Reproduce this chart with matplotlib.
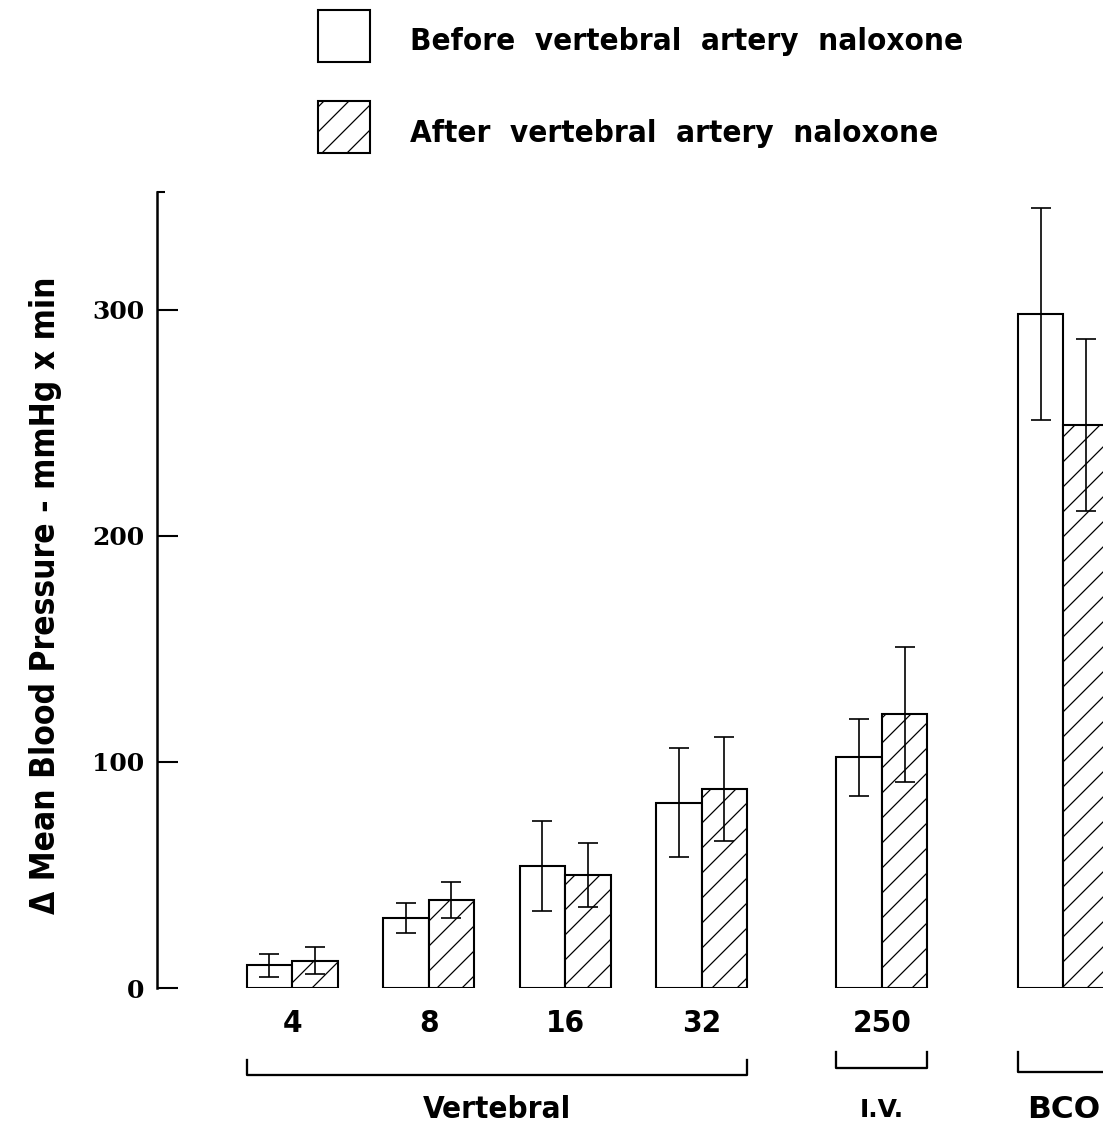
import numpy as np
import matplotlib
matplotlib.use("Agg")
import matplotlib.pyplot as plt
from matplotlib.patches import Rectangle

# data
doses = ["4", "8", "16", "32", "250", ""]
groups = ["Vertebral", "I.V.", "BCO"]
group_members = [[0, 1, 2, 3], [4], [5]]
before = [10, 31, 54, 82, 102, 298]
before_err = [5, 6.5, 20, 24, 17, 47]
after = [12, 39, 50, 88, 121, 249]
after_err = [6, 8, 14, 23, 30, 38]
series_labels = ["Before vertebral artery naloxone", "After vertebral artery naloxone"]

# layout
positions = np.array([0, 1, 2, 3, 4.32, 5.65])
width = 0.333
DPI = 150
W, H = 1103, 1126

plt.rcParams['font.family'] = ['DejaVu Sans']
plt.rcParams['font.stretch'] = 'condensed'
plt.rcParams['font.weight'] = 'bold'
plt.rcParams['axes.labelweight'] = 'bold'
plt.rcParams['hatch.linewidth'] = 0.6

fig = plt.figure(figsize=(W / DPI, H / DPI), dpi=DPI)
ax = fig.add_axes([157 / W, (H - 988) / H, (W - 157) / W, (988 - 192) / H])

err_kw = dict(elinewidth=0.8, capthick=0.8, ecolor='black')
ax.bar(positions - width / 2, before, width, yerr=before_err, capsize=5,
       color='white', edgecolor='black', linewidth=1.0, error_kw=err_kw)
ax.bar(positions + width / 2, after, width, yerr=after_err, capsize=5,
       color='white', edgecolor='black', linewidth=1.0, hatch='//', error_kw=err_kw)

ax.set_xlim(-0.99, 5.94)
ax.set_ylim(0, 352)
for s in ['top', 'right', 'bottom']:
    ax.spines[s].set_visible(False)
ax.spines['left'].set_linewidth(1.2)

ax.set_yticks([0, 100, 200, 300])
ax.set_yticks([352], minor=True)
ax.tick_params(axis='y', which='major', direction='in', length=10, width=1.0,
               labelsize=12, pad=6)
ax.tick_params(axis='y', which='minor', direction='in', length=4, width=1.0)
for t in ax.get_yticklabels():
    t.set_fontfamily(['DejaVu Serif'])
    t.set_fontstretch('normal')
    t.set_fontweight('bold')

ax.set_xticks(positions)
ax.set_xticklabels(doses)
ax.tick_params(axis='x', length=0, labelsize=15, pad=10)

ax.set_ylabel("\u0394 Mean Blood Pressure - mmHg x min", fontsize=16)
ax.yaxis.set_label_coords(-0.100, 0.494)

# group brackets under the axis
trans = ax.get_xaxis_transform()
bracket_y = [(-0.109, -0.090), (-0.1005, -0.080), (-0.1055, -0.080)]
label_style = [dict(fontsize=15), dict(fontsize=12, fontstretch='normal'),
               dict(fontsize=15, fontstretch='normal')]
for name, members, (yb, yt), st in zip(groups, group_members, bracket_y, label_style):
    x0 = positions[members[0]] - width
    x1 = positions[members[-1]] + width
    ax.plot([x0, x0, x1, x1], [yt, yb, yb, yt], color='black', lw=1.1,
            transform=trans, clip_on=False)
    xc = (x0 + x1) / 2 if name != "BCO" else positions[members[0]]
    ax.text(xc, -0.153, name, transform=trans, ha='center', va='center', **st)

# legend drawn as boxes and text in figure pixels
legend_rows = [36, 127]
for label, row, hatch in zip(series_labels, legend_rows, [None, '//']):
    box = Rectangle((318 / W, (H - row - 26) / H), 52 / W, 52 / H,
                    transform=fig.transFigure, facecolor='white', edgecolor='black',
                    linewidth=1.0, hatch=hatch)
    fig.add_artist(box)
    fig.text(410 / W, (H - row - 6) / H, label.replace(" ", "  "), fontsize=15,
             ha='left', va='center')

fig.savefig("out.png", dpi=DPI)
